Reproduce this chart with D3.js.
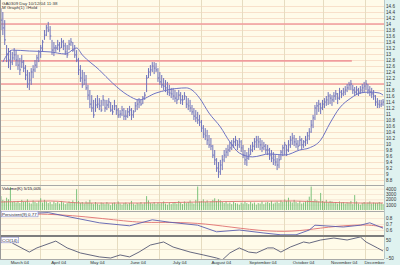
<!DOCTYPE html>
<html>
<head>
<meta charset="utf-8">
<script src="https://cdn.jsdelivr.net/npm/d3@7"></script>
<style>
  body { margin: 0; background: #fff; }
  text { font-family: "Liberation Sans", Arial, sans-serif; }
</style>
</head>
<body>
<div id="chart"></div>
<script>
// trading days, market shut for easter
const firstDay = "2004-03-03", lastDay = "2004-12-14";
const holidays = ["2004-04-09", "2004-04-12"];

const highs = [14.53,14.40,14.13,
  13.30,13.20,13.13,13.07,13.20, 13.13,12.97,12.87,12.97,12.80, 12.63,12.47,12.40,12.53,12.63, 12.80,12.97,13.13,13.30,13.47,
  13.80,13.97,14.07,13.93, 13.47,13.40,13.30,13.47,
  13.40,13.53,13.47,13.37,13.30, 13.47,13.53,13.40,13.30,13.13, 12.87,12.63,12.47,12.40,12.30, 11.97,11.80,11.63,11.47,11.53,
  11.63,11.53,11.47,11.63,11.47, 11.47,11.53,11.40,11.30,11.47, 11.30,11.20,11.13,11.27,11.20, 11.13,11.20,11.27,11.20,11.13,
  11.40,11.47,11.53,11.47,11.60, 11.73,12.30,12.53,12.63,12.73, 12.73,12.70,12.53,12.40,12.30, 12.20,12.13,12.07,11.97,11.87,
  11.87,11.80,11.73,11.80,11.73, 11.63,11.73,11.60,11.53,11.47, 11.30,11.20,11.13,11.07,10.97, 10.80,10.63,10.53,10.47,10.30,
  10.20,9.97,9.80,9.53,9.40, 9.47,9.63,9.80,9.87,9.97, 10.07,10.13,10.20,10.27,10.13, 10.20,10.13,9.97,9.80,9.73,
  9.87,9.97,10.07,10.20,10.27, 10.27,10.20,10.13,10.07,10.00, 9.97,9.87,9.80,9.73,9.63, 9.53,9.63,9.80,9.97,10.07,
  9.97,10.13,10.27,10.37,10.30, 10.20,10.13,10.27,10.20,10.13, 10.27,10.40,10.53,10.80,10.97, 11.30,11.40,11.47,11.37,11.47,
  11.53,11.60,11.73,11.67,11.63, 11.73,11.80,11.70,11.87,11.80, 11.87,11.93,12.00,12.07,12.13, 11.97,11.90,11.93,11.87,11.93,
  12.00,12.07,12.13,12.00,11.93, 11.87,11.80,11.63,11.53,11.47, 11.47,11.50];

const lows = [13.80,13.63,13.30,
  12.73,12.53,12.47,12.63,12.80, 12.60,12.47,12.30,12.53,12.40, 12.13,11.87,11.80,11.97,12.20, 12.40,12.53,12.73,12.87,13.07,
  13.47,13.60,13.73,13.47, 12.97,12.93,13.07,13.13,
  13.07,13.20,13.13,12.97,12.87, 13.13,13.27,13.07,12.87,12.73, 12.30,12.07,11.87,11.97,11.80, 11.47,11.20,11.07,10.87,11.07,
  11.20,11.13,11.07,11.27,11.07, 11.13,11.20,11.07,10.97,11.13, 10.97,10.87,10.87,10.93,10.80, 10.80,10.87,10.93,10.80,10.87,
  11.07,11.13,11.20,11.27,11.33, 11.47,11.73,12.20,12.27,12.40, 12.33,12.40,12.07,11.97,11.87, 11.80,11.73,11.63,11.60,11.53,
  11.47,11.40,11.33,11.47,11.33, 11.30,11.47,11.20,11.13,11.07, 10.97,10.80,10.73,10.67,10.60, 10.40,10.20,10.13,9.97,9.87,
  9.80,9.53,9.30,9.07,8.87, 8.97,9.13,9.40,9.53,9.60, 9.73,9.80,9.87,9.93,9.80, 9.87,9.73,9.53,9.30,9.27,
  9.47,9.63,9.73,9.80,9.87, 9.87,9.80,9.73,9.80,9.67, 9.63,9.47,9.40,9.30,9.27, 9.13,9.20,9.47,9.60,9.63,
  9.60,9.73,9.87,9.97,9.93, 9.87,9.80,9.93,9.80,9.87, 9.93,10.00,10.13,10.37,10.53, 10.80,10.97,11.07,11.00,11.13,
  11.20,11.27,11.30,11.33,11.27, 11.40,11.47,11.33,11.47,11.53, 11.60,11.63,11.73,11.80,11.80, 11.67,11.60,11.63,11.60,11.67,
  11.70,11.73,11.80,11.67,11.60, 11.53,11.47,11.27,11.20,11.20, 11.23,11.27];

const closes = [14.13,13.87,13.47,
  12.97,12.80,12.73,12.87,12.97, 12.80,12.63,12.47,12.73,12.53, 12.30,12.00,12.13,12.40,12.47, 12.63,12.87,13.07,13.20,13.40,
  13.63,13.87,13.80,13.60, 13.13,13.20,13.20,13.30,
  13.20,13.40,13.27,13.07,12.97, 13.33,13.40,13.13,12.97,12.80, 12.47,12.20,11.97,12.13,11.87, 11.63,11.33,11.20,10.97,11.30,
  11.33,11.27,11.13,11.47,11.20, 11.30,11.40,11.13,11.07,11.27, 11.13,10.97,11.00,11.13,10.93, 10.93,11.07,11.13,10.97,11.07,
  11.27,11.33,11.40,11.33,11.53, 11.63,12.20,12.40,12.47,12.60, 12.53,12.47,12.20,12.07,11.97, 11.93,11.87,11.73,11.70,11.67,
  11.60,11.53,11.47,11.63,11.47, 11.47,11.60,11.33,11.27,11.20, 11.07,10.93,10.87,10.80,10.73, 10.53,10.33,10.27,10.13,9.97,
  9.93,9.63,9.47,9.20,9.07, 9.30,9.47,9.63,9.73,9.80, 9.87,9.97,10.07,10.13,9.97, 10.07,9.87,9.63,9.47,9.53,
  9.63,9.80,9.93,10.07,10.13, 10.07,9.97,9.87,9.93,9.80, 9.80,9.63,9.53,9.47,9.40, 9.30,9.47,9.73,9.87,9.97,
  9.80,9.97,10.13,10.20,10.07, 10.00,9.93,10.13,9.97,10.07, 10.13,10.27,10.40,10.63,10.87, 11.20,11.27,11.33,11.20,11.33,
  11.40,11.47,11.60,11.53,11.47, 11.60,11.67,11.53,11.73,11.67, 11.73,11.80,11.87,11.97,12.00, 11.80,11.73,11.80,11.73,11.80,
  11.87,11.93,12.00,11.80,11.73, 11.67,11.60,11.40,11.33,11.30, 11.33,11.40];

// volume in thousands
const volumes = [2600,1900,1700,
  2300,2000,4300,1500,1600, 1400,1700,1300,1900,1500, 1600,2000,1400,1200,1800, 1500,1300,1700,2200,1400,
  1900,1600,1300,1500, 1100,1600,1300,1500,
  1200,1700,1400,1100,1300, 1600,1400,1800,1500,3900, 1700,1300,1500,1200,1600, 1400,1900,1300,1100,1500,
  1200,1000,1400,1300,1100, 1500,1200,900,1300,1400, 1100,1600,1200,1000,1300, 1400,1100,1300,1700,1200,
  1000,1300,1200,1500,1100, 1400,2600,1800,1300,1200, 1500,1100,1400,1200,1300, 1600,1200,1000,1400,1100,
  1300,1500,1200,1700,1400, 1100,1600,1300,1500,1800, 1400,1200,1900,4400,1600, 1700,2000,1500,1800,1400,
  1600,1900,2200,1700,2000, 1800,1500,1300,1600,1200, 1400,1100,1500,1300,1200, 1000,1400,1200,1600,1300,
  1100,1500,1200,1400,1000, 1300,1200,1600,1100,1400, 1500,1300,1700,1200,1400, 1600,1300,1800,1500,2000,
  1700,2300,1600,1400,1900, 1500,1300,1700,1200,1400, 1600,1800,2500,4400,1700, 2000,1800,1600,3200,1700,
  1500,1900,1400,1700,1600, 1300,1500,1200,1600,1400, 1500,1200,1400,1300,1700, 1100,2800,1600,1200,1000,
  1300,1500,1200,1400,1600, 1200,1400,1300,1300,1500, 1300,1100];

// support / resistance lines
const levels = [14.0, 12.77, 12.0];
const levelEnds = ["2004-12-14", "2004-11-19", "2004-12-14"];

const maDates = ["2004-03-04","2004-03-11","2004-03-24","2004-04-08","2004-04-22","2004-04-30","2004-05-05","2004-05-18",
  "2004-05-27","2004-06-08","2004-06-16","2004-06-29","2004-07-07","2004-07-21","2004-07-26","2004-07-30","2004-08-06",
  "2004-08-16","2004-08-23","2004-08-30","2004-09-08","2004-09-21","2004-10-01","2004-10-13","2004-10-20","2004-10-28",
  "2004-11-04","2004-11-11","2004-11-19","2004-11-26","2004-12-03","2004-12-10","2004-12-14"];
const maValues = [12.73,13.13,13.10,13.07,13.00,13.20,12.97,12.47,
  12.03,11.63,11.47,11.70,11.80,11.87,11.80,11.53,11.03,
  10.57,10.07,9.70,9.57,9.67,9.63,9.80,9.87,10.13,
  10.70,11.20,11.53,11.70,11.73,11.70,11.63];

const volMaDates = ["2004-03-03","2004-04-08","2004-05-05","2004-06-16","2004-07-29","2004-10-07","2004-10-28","2004-11-26","2004-12-14"];
const volMaValues = [1500,1690,1310,1310,1500,1690,1500,1310,1310];

const pctDates = ["2004-03-03","2004-03-17","2004-04-07","2004-04-26","2004-05-18","2004-06-09","2004-06-25","2004-07-08",
  "2004-07-29","2004-08-12","2004-08-30","2004-09-16","2004-09-29","2004-10-11","2004-10-20","2004-10-25","2004-11-15",
  "2004-11-26","2004-12-03","2004-12-14"];
const pctValues = [0.85,0.87,0.89,0.82,0.72,0.67,0.77,0.73,0.68,0.57,0.60,0.55,0.52,0.52,0.60,0.68,0.65,0.68,0.72,0.63];

const sigDates = ["2004-03-03","2004-04-06","2004-05-18","2004-06-16","2004-07-05","2004-07-29","2004-08-23","2004-09-21",
  "2004-10-13","2004-11-02","2004-12-01","2004-12-14"];
const sigValues = [0.85,0.88,0.80,0.72,0.73,0.72,0.65,0.57,0.58,0.65,0.70,0.65];

const oscDates = ["2004-03-03","2004-03-09","2004-03-11","2004-03-24","2004-03-30","2004-04-15","2004-04-23","2004-05-04",
  "2004-05-18","2004-05-26","2004-06-02","2004-06-09","2004-06-16","2004-06-24","2004-07-05","2004-07-12","2004-07-23",
  "2004-08-03","2004-08-12","2004-08-17","2004-08-23","2004-08-30","2004-09-06","2004-09-10","2004-09-20","2004-09-23",
  "2004-09-29","2004-10-06","2004-10-15","2004-10-20","2004-10-28","2004-11-08","2004-11-17","2004-11-26","2004-12-01",
  "2004-12-09","2004-12-14"];
const oscValues = [50,61,33,-17,6,44,6,-22,-44,-50,-33,-44,-17,22,39,11,-17,-33,-50,-61,-22,6,-17,-22,6,6,
  -17,11,39,33,50,61,50,67,39,6,-11];

const priceTicks = [8.8,9,9.2,9.4,9.6,9.8,10,10.2,10.4,10.6,10.8,11,11.2,11.4,11.6,11.8,12,12.2,12.4,12.6,12.8,
  13,13.2,13.4,13.6,13.8,14,14.2,14.4,14.6];
const volTicks = [1000, 2000, 3000, 4000];
const pctTicks = [0.6, 0.7, 0.8];
const oscTicks = [-50, 0, 50];
const monthLabels = ["March 04","April 04","May 04","June 04","July 04","August 04","September 04","October 04","November 04","December"];

const W = 400, H = 265, plotW = 384;
const volTop = 185, pctTop = 211, oscTop = 237, oscBottom = 259;

const parse = d3.utcParse("%Y-%m-%d"), fmt = d3.utcFormat("%Y-%m-%d");
const dates = d3.utcDays(parse(firstDay), d3.utcDay.offset(parse(lastDay), 1))
  .filter(d => d.getUTCDay() % 6 !== 0 && !holidays.includes(fmt(d)))
  .map(fmt);

const x = d3.scaleBand().domain(dates).range([0, plotW]);
const cx = d => x(d) + x.bandwidth() / 2;

const yPrice = d3.scaleLinear().domain([8.6, 14.8]).range([186, 0]);
const yVol = d3.scaleLinear().domain([0, 4500]).range([210, 186]);
const yPct = d3.scaleLinear().domain([0.5, 0.9]).range([236, 212]);
const yOsc = d3.scaleLinear().domain([-50, 50]).range([258, 240]);

const svg = d3.select("#chart").append("svg")
  .attr("width", W).attr("height", H)
  .style("display", "block");

svg.append("rect").attr("width", W).attr("height", H).attr("fill", "#dff2f0");

const defs = svg.append("defs");
const panels = [[0, volTop], [volTop, pctTop], [pctTop, 235], [oscTop, oscBottom]];
panels.forEach((p, i) => {
  svg.append("rect")
    .attr("x", 0).attr("y", p[0])
    .attr("width", plotW).attr("height", p[1] - p[0])
    .attr("fill", "#fffbe9");
  defs.append("clipPath").attr("id", "clip" + i)
    .append("rect").attr("x", 0).attr("y", p[0]).attr("width", plotW).attr("height", p[1] - p[0]);
});

// horizontal grid
function hGrid(scale, ticks, color) {
  const g = svg.append("g")
    .call(d3.axisRight(scale).tickValues(ticks).tickSize(plotW).tickFormat(""));
  g.select(".domain").remove();
  g.selectAll("line").attr("stroke", color).attr("stroke-width", 0.8);
}
hGrid(yPrice, priceTicks, "#f6d9c2");
hGrid(yVol, volTicks, "#f6e2cf");
hGrid(yPct, pctTicks, "#f6e2cf");
hGrid(yOsc, [0], "#eadfca");

// month grid
const monthStarts = dates.filter((d, i) => i > 0 && d.slice(5, 7) !== dates[i - 1].slice(5, 7));
svg.append("g").selectAll("line")
  .data(monthStarts)
  .join("line")
    .attr("x1", d => Math.round(x(d)) + 0.5).attr("x2", d => Math.round(x(d)) + 0.5)
    .attr("y1", 0).attr("y2", oscBottom)
    .attr("stroke", "#e6dcc0").attr("stroke-width", 1);

// price panel
const gp = svg.append("g").attr("clip-path", "url(#clip0)");

gp.selectAll("line.lvl")
  .data(levels)
  .join("line")
    .attr("class", "lvl")
    .attr("x1", 0).attr("x2", (d, i) => x(levelEnds[i]) + x.bandwidth())
    .attr("y1", d => yPrice(d)).attr("y2", d => yPrice(d))
    .attr("stroke", "#f09c9c").attr("stroke-width", 1.6);

gp.selectAll("line.hl")
  .data(dates)
  .join("line")
    .attr("class", "hl")
    .attr("x1", d => cx(d)).attr("x2", d => cx(d))
    .attr("y1", (d, i) => yPrice(highs[i])).attr("y2", (d, i) => yPrice(lows[i]))
    .attr("stroke", "#7074bc").attr("stroke-width", 1);

gp.selectAll("line.cl")
  .data(dates)
  .join("line")
    .attr("class", "cl")
    .attr("x1", d => cx(d)).attr("x2", d => cx(d) + 1.2)
    .attr("y1", (d, i) => yPrice(closes[i])).attr("y2", (d, i) => yPrice(closes[i]))
    .attr("stroke", "#7074bc").attr("stroke-width", 1);

const maLine = d3.line()
  .x(d => cx(d[0])).y(d => yPrice(d[1]))
  .curve(d3.curveMonotoneX);
gp.append("path")
  .attr("d", maLine(d3.zip(maDates, maValues)))
  .attr("fill", "none").attr("stroke", "#6f73c4").attr("stroke-width", 1);

// volume panel
const gv = svg.append("g").attr("clip-path", "url(#clip1)");
gv.selectAll("line")
  .data(dates)
  .join("line")
    .attr("x1", d => cx(d)).attr("x2", d => cx(d))
    .attr("y1", yVol(0)).attr("y2", (d, i) => yVol(volumes[i]))
    .attr("stroke", "#7cc27c").attr("stroke-width", 1);
gv.append("path")
  .attr("d", d3.line().x(d => cx(d[0])).y(d => yVol(d[1])).curve(d3.curveMonotoneX)(d3.zip(volMaDates, volMaValues)))
  .attr("fill", "none").attr("stroke", "#e07070").attr("stroke-width", 0.9);

// indicator panel
const gi = svg.append("g").attr("clip-path", "url(#clip2)");
gi.append("path")
  .attr("d", d3.line().x(d => cx(d[0])).y(d => yPct(d[1])).curve(d3.curveBasis)(d3.zip(sigDates, sigValues)))
  .attr("fill", "none").attr("stroke", "#e07070").attr("stroke-width", 0.9);
gi.append("path")
  .attr("d", d3.line().x(d => cx(d[0])).y(d => yPct(d[1]))(d3.zip(pctDates, pctValues)))
  .attr("fill", "none").attr("stroke", "#5a5fb0").attr("stroke-width", 0.9);

// oscillator panel
const go = svg.append("g").attr("clip-path", "url(#clip3)");
go.append("path")
  .attr("d", d3.line().x(d => cx(d[0])).y(d => yOsc(d[1]))(d3.zip(oscDates, oscValues)))
  .attr("fill", "none").attr("stroke", "#555874").attr("stroke-width", 0.9);

// borders
svg.append("rect").attr("x", 0).attr("y", 235).attr("width", plotW).attr("height", 2).attr("fill", "#7d7d7d");
[volTop, pctTop].forEach(y => {
  svg.append("line").attr("x1", 0).attr("x2", plotW).attr("y1", y + 0.5).attr("y2", y + 0.5)
    .attr("stroke", "#a8a8a8");
});
svg.append("line").attr("x1", 0).attr("x2", plotW).attr("y1", oscBottom + 0.5).attr("y2", oscBottom + 0.5).attr("stroke", "#a8a8a8");
svg.append("line").attr("x1", 0.5).attr("x2", 0.5).attr("y1", 0).attr("y2", oscBottom).attr("stroke", "#999");
svg.append("line").attr("x1", plotW + 0.5).attr("x2", plotW + 0.5).attr("y1", 0).attr("y2", oscBottom).attr("stroke", "#b8c8c8");

// right axis labels
function rightAxis(scale, ticks, f) {
  const g = svg.append("g").attr("transform", `translate(${plotW + 1},0)`)
    .call(d3.axisRight(scale).tickValues(ticks).tickSize(0).tickPadding(1).tickFormat(f));
  g.select(".domain").remove();
  g.attr("font-size", 4.6).attr("font-family", "Liberation Sans, Arial, sans-serif");
  g.selectAll("text").attr("fill", "#333");
}
rightAxis(yPrice, priceTicks, d3.format(".1~f"));
rightAxis(yVol, volTicks, d3.format("d"));
rightAxis(yPct, pctTicks, d3.format(".1f"));
rightAxis(yOsc, oscTicks, d3.format("d"));

// month labels
const starts = [dates[0]].concat(monthStarts);
svg.append("g").selectAll("text")
  .data(starts)
  .join("text")
    .attr("x", (d, i) => ((i === 0 ? 0 : x(d)) + (i < starts.length - 1 ? x(starts[i + 1]) : plotW)) / 2)
    .attr("y", 263.5)
    .attr("text-anchor", "middle")
    .attr("font-size", 4.4)
    .attr("fill", "#333")
    .text((d, i) => monthLabels[i]);

// panel titles
svg.append("text").attr("x", 2).attr("y", 4.5).attr("font-size", 4.4).attr("fill", "#333")
  .text("GA0309 Day 10/12/04 11:38");
svg.append("text").attr("x", 2).attr("y", 9).attr("font-size", 4.4).attr("fill", "#333")
  .text("M Graph(1) #Hold");

function title(y, txt, boxed) {
  const g = svg.append("g");
  const t = g.append("text").attr("x", 2).attr("y", y).attr("font-size", 4.4).attr("fill", "#223")
    .text(txt);
  if (boxed) {
    const b = t.node().getBBox();
    g.insert("rect", "text")
      .attr("x", b.x - 0.8).attr("y", b.y - 0.3).attr("width", b.width + 1.6).attr("height", b.height + 0.6)
      .attr("fill", "#ffffff").attr("stroke", "#8a8ccc").attr("stroke-width", 0.6);
  }
}
title(volTop + 4.5, "Volume(K) 5/15,005", false);
title(pctTop + 4.5, "Persistent(9)  0.77", true);
title(oscTop + 4.5, "CCI(14)", true);
</script>
</body>
</html>
